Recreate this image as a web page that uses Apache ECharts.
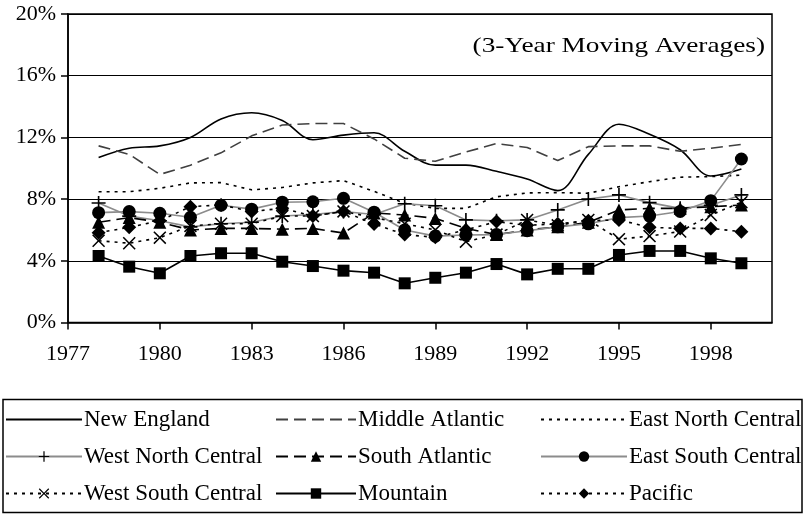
<!DOCTYPE html>
<html>
<head>
<meta charset="utf-8">
<script src="https://cdn.jsdelivr.net/npm/echarts@6/dist/echarts.min.js"></script>
<style>html,body{margin:0;padding:0;background:#fff}#c{width:807px;height:516px}</style>
</head>
<body>
<div id="c"></div>
<script>
const categories = ['1977','1978','1979','1980','1981','1982','1983','1984','1985','1986','1987','1988','1989','1990','1991','1992','1993','1994','1995','1996','1997','1998','1999','2000'];
const dataYears = ['1978','1979','1980','1981','1982','1983','1984','1985','1986','1987','1988','1989','1990','1991','1992','1993','1994','1995','1996','1997','1998','1999'];
const yTicks = [0, 4, 8, 12, 16, 20];
const subtitle = '(3-Year Moving Averages)';

const newEngland        = [10.7, 11.3, 11.45, 12.0, 13.2, 13.6, 13.1, 11.85, 12.15, 12.3, 11.1, 10.2, 10.2, 9.8, 9.3, 8.55, 10.9, 12.85, 12.2, 11.2, 9.5, 9.95];
const middleAtlantic    = [11.45, 10.9, 9.6, 10.2, 11.0, 12.1, 12.8, 12.9, 12.9, 11.9, 10.65, 10.45, 11.05, 11.6, 11.35, 10.5, 11.4, 11.45, 11.45, 11.1, 11.3, 11.55];
const eastNorthCentral  = [8.48, 8.48, 8.7, 9.05, 9.07, 8.6, 8.75, 9.05, 9.2, 8.5, 7.73, 7.4, 7.4, 8.15, 8.4, 8.42, 8.38, 8.8, 9.13, 9.42, 9.46, 9.55];
const westNorthCentral  = [7.75, 6.9, 6.6, 6.2, 6.4, 6.5, 6.9, 7.0, 7.2, 7.0, 7.7, 7.57, 6.65, 6.6, 6.65, 7.3, 8.0, 8.27, 7.77, 7.4, 7.6, 8.27];
const southAtlantic     = [6.5, 6.8, 6.5, 6.0, 6.1, 6.1, 6.05, 6.1, 5.8, 7.1, 6.97, 6.75, 6.1, 5.7, 6.0, 6.2, 6.5, 7.3, 7.4, 7.4, 7.5, 7.62];
const eastSouthCentral  = [7.12, 7.19, 7.08, 6.82, 7.6, 7.35, 7.8, 7.83, 8.05, 7.15, 6.0, 5.6, 5.67, 5.7, 5.95, 6.2, 6.4, 6.8, 6.9, 7.2, 7.9, 10.6];
const westSouthCentral  = [5.3, 5.14, 5.5, 6.26, 6.4, 6.4, 6.9, 6.9, 7.2, 6.8, 6.4, 6.0, 5.24, 5.7, 6.65, 6.3, 6.65, 5.4, 5.6, 5.9, 6.97, 7.8];
const mountain          = [4.31, 3.62, 3.19, 4.31, 4.49, 4.49, 3.94, 3.66, 3.36, 3.23, 2.54, 2.9, 3.23, 3.79, 3.12, 3.48, 3.48, 4.38, 4.64, 4.64, 4.16, 3.84];
const pacific           = [5.82, 6.17, 6.6, 7.51, 7.62, 7.2, 7.4, 6.9, 7.2, 6.39, 5.7, 5.52, 6.0, 6.54, 6.3, 6.4, 6.6, 6.65, 6.17, 6.1, 6.1, 5.89];

const FONT = 'Liberation Serif';
const PLUS = 'path://M5.3,0H6.7V5.3H12V6.7H6.7V12H5.3V6.7H0V5.3H5.3Z';
const CROSS = 'path://M0,1L1,0L6,5L11,0L12,1L7,6L12,11L11,12L6,7L1,12L0,11L5,6Z';

function pairs(vals){ return dataYears.map((y,i)=>[y, vals[i]]); }

const seriesDefs = [
  {name:'New England', vals:newEngland, color:'#000', type:'solid', symbol:'none', smooth:0.35},
  {name:'Middle Atlantic', vals:middleAtlantic, color:'#404040', type:[12,6], symbol:'none'},
  {name:'East North Central', vals:eastNorthCentral, color:'#000', type:[3,5], symbol:'none'},
  {name:'West North Central', vals:westNorthCentral, color:'#8c8c8c', type:'solid', symbol:PLUS, size:14},
  {name:'South Atlantic', vals:southAtlantic, color:'#000', type:[12,6], symbol:'triangle', size:13},
  {name:'East South Central', vals:eastSouthCentral, color:'#8c8c8c', type:'solid', symbol:'circle', size:13},
  {name:'West South Central', vals:westSouthCentral, color:'#000', type:[3,5], symbol:CROSS, size:13},
  {name:'Mountain', vals:mountain, color:'#000', type:'solid', symbol:'rect', size:12},
  {name:'Pacific', vals:pacific, color:'#000', type:[3,5], symbol:'diamond', size:14}
];

const series = seriesDefs.map(d => ({
  name: d.name,
  type: 'line',
  data: pairs(d.vals),
  smooth: d.smooth || false,
  symbol: d.symbol,
  symbolSize: d.size || 0,
  showSymbol: d.symbol !== 'none',
  lineStyle: {color: d.color, width: 1.6, type: d.type},
  itemStyle: {color: '#000', borderWidth: 0},
  emphasis: {disabled: true},
  animation: false,
  z: 2
}));

const colLeft = [0, 270, 535];
const colWidth = [76, 80, 86];
const rowTop = [403, 440, 477];
const legends = seriesDefs.map((d,i) => ({
  data: [d.name],
  left: colLeft[i%3],
  top: rowTop[Math.floor(i/3)],
  itemWidth: colWidth[i%3],
  itemHeight: 13,
  itemGap: 0,
  selectedMode: false,
  itemStyle: d.symbol === 'none' ? {opacity: 0} : {color: '#000', borderWidth: 0},
  textStyle: {fontFamily: FONT, fontSize: 23, color: '#000', padding: [0,0,0,-3]}
}));

const chart = echarts.init(document.getElementById('c'), null, {renderer:'canvas'});
chart.setOption({
  animation: false,
  backgroundColor: '#fff',
  grid: {left: 68, top: 14, right: 35, bottom: 193.5, show: true, borderColor: '#000', borderWidth: 1.5, backgroundColor: 'transparent'},
  xAxis: {
    type: 'category', data: categories, boundaryGap: false,
    axisLine: {lineStyle: {color: '#000', width: 1.5}},
    axisTick: {interval: 2, length: 7, lineStyle: {color: '#000', width: 1.5}},
    axisLabel: {interval: 2, fontFamily: FONT, fontSize: 22, color: '#000', margin: 21},
    splitLine: {show: false}
  },
  yAxis: {
    type: 'value', min: yTicks[0], max: yTicks[yTicks.length-1], interval: 4,
    axisLine: {show: true, lineStyle: {color: '#000', width: 1.5}},
    axisTick: {show: true, length: 7, lineStyle: {color: '#000', width: 1.5}},
    axisLabel: {formatter: '{value}%', fontFamily: FONT, fontSize: 22, color: '#000', margin: 12},
    splitLine: {show: true, lineStyle: {color: '#000', width: 1.2}}
  },
  legend: legends,
  graphic: [
    {type: 'rect', left: 0.5, top: 397, shape: {width: 799, height: 113}, style: {fill: 'none', stroke: '#000', lineWidth: 1.5}, silent: true},
    {type: 'text', x: 765, y: 46, scaleX: 1.3, scaleY: 1, originX: 0, originY: 0,
     style: {text: subtitle, fontFamily: FONT, fontSize: 21, fill: '#000', textAlign: 'right', textVerticalAlign: 'middle'}, silent: true, z: 10}
  ],
  series: series
});
</script>
</body>
</html>
